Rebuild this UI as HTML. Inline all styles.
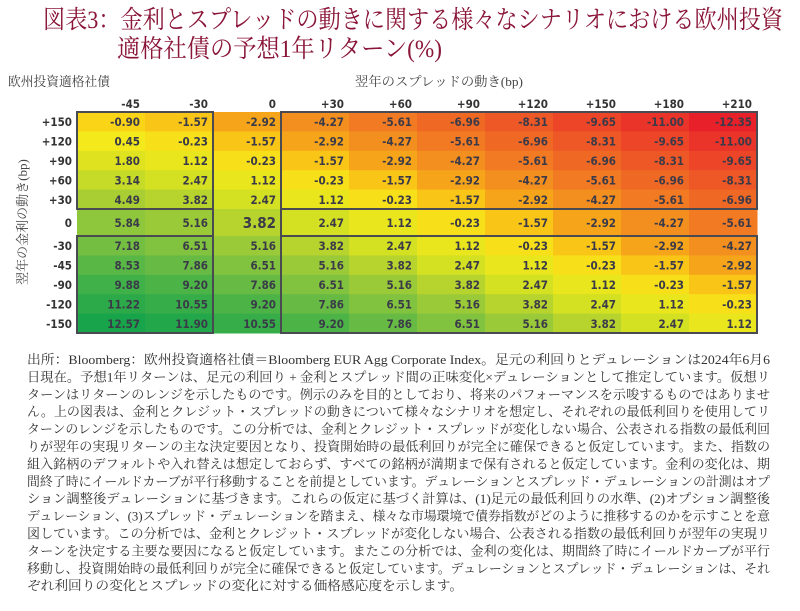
<!DOCTYPE html>
<html><head><meta charset="utf-8">
<style>
body{margin:0;background:#fff;}
svg{display:block;}
.cj{font-family:"Liberation Serif","Noto Serif CJK SC",serif;}
.num{font-family:"DejaVu Sans Condensed","DejaVu Sans","Liberation Sans",sans-serif;font-weight:bold;}
</style></head>
<body>
<svg id="chart" width="800" height="611" viewBox="0 0 800 611" xmlns="http://www.w3.org/2000/svg">
<text class="cj" x="43" y="28" font-size="25" fill="#8a1538" textLength="740" lengthAdjust="spacingAndGlyphs">図表3：金利とスプレッドの動きに関する様々なシナリオにおける欧州投資</text>
<text class="cj" x="117" y="57" font-size="25" fill="#8a1538" textLength="325" lengthAdjust="spacingAndGlyphs">適格社債の予想1年リターン(%)</text>
<text class="cj" x="8" y="86" font-size="13" fill="#444" textLength="102" lengthAdjust="spacingAndGlyphs">欧州投資適格社債</text>
<text class="cj" x="355" y="86" font-size="13" fill="#444" textLength="168" lengthAdjust="spacingAndGlyphs">翌年のスプレッドの動き(bp)</text>
<text class="cj" transform="translate(27,222) rotate(-90)" text-anchor="middle" font-size="13" fill="#444">翌年の金利の動き(bp)</text>
<g id="cells"></g>
<g id="frames"></g>
<g id="note" class="cj" font-size="13" fill="#333"></g>
</svg>
<script>
const colLabels=["-45","-30","0","+30","+60","+90","+120","+150","+180","+210"];
const rowLabels=["+150","+120","+90","+60","+30","0","-30","-45","-90","-120","-150"];
const r0=[-0.90,-1.57,-2.92,-4.27,-5.61,-6.96,-8.31,-9.65,-11.00,-12.35];
const r1=[0.45,-0.23,-1.57,-2.92,-4.27,-5.61,-6.96,-8.31,-9.65,-11.00];
const r2=[1.80,1.12,-0.23,-1.57,-2.92,-4.27,-5.61,-6.96,-8.31,-9.65];
const r3=[3.14,2.47,1.12,-0.23,-1.57,-2.92,-4.27,-5.61,-6.96,-8.31];
const r4=[4.49,3.82,2.47,1.12,-0.23,-1.57,-2.92,-4.27,-5.61,-6.96];
const r5=[5.84,5.16,3.82,2.47,1.12,-0.23,-1.57,-2.92,-4.27,-5.61];
const r6=[7.18,6.51,5.16,3.82,2.47,1.12,-0.23,-1.57,-2.92,-4.27];
const r7=[8.53,7.86,6.51,5.16,3.82,2.47,1.12,-0.23,-1.57,-2.92];
const r8=[9.88,9.20,7.86,6.51,5.16,3.82,2.47,1.12,-0.23,-1.57];
const r9=[11.22,10.55,9.20,7.86,6.51,5.16,3.82,2.47,1.12,-0.23];
const r10=[12.57,11.90,10.55,9.20,7.86,6.51,5.16,3.82,2.47,1.12];
const values=[r0,r1,r2,r3,r4,r5,r6,r7,r8,r9,r10];
const noteLines=[
"出所：Bloomberg：欧州投資適格社債＝Bloomberg EUR Agg Corporate Index。足元の利回りとデュレーションは2024年6月6",
"日現在。予想1年リターンは、足元の利回り + 金利とスプレッド間の正味変化×デュレーションとして推定しています。仮想リ",
"ターンはリターンのレンジを示したものです。例示のみを目的としており、将来のパフォーマンスを示唆するものではありませ",
"ん。上の図表は、金利とクレジット・スプレッドの動きについて様々なシナリオを想定し、それぞれの最低利回りを使用してリ",
"ターンのレンジを示したものです。この分析では、金利とクレジット・スプレッドが変化しない場合、公表される指数の最低利回",
"りが翌年の実現リターンの主な決定要因となり、投資開始時の最低利回りが完全に確保できると仮定しています。また、指数の",
"組入銘柄のデフォルトや入れ替えは想定しておらず、すべての銘柄が満期まで保有されると仮定しています。金利の変化は、期",
"間終了時にイールドカーブが平行移動することを前提としています。デュレーションとスプレッド・デュレーションの計測はオプ",
"ション調整後デュレーションに基づきます。これらの仮定に基づく計算は、(1)足元の最低利回りの水準、(2)オプション調整後",
"デュレーション、(3)スプレッド・デュレーションを踏まえ、様々な市場環境で債券指数がどのように推移するのかを示すことを意",
"図しています。この分析では、金利とクレジット・スプレッドが変化しない場合、公表される指数の最低利回りが翌年の実現リ",
"ターンを決定する主要な要因になると仮定しています。またこの分析では、金利の変化は、期間終了時にイールドカーブが平行",
"移動し、投資開始時の最低利回りが完全に確保できると仮定しています。デュレーションとスプレッド・デュレーションは、それ",
"ぞれ利回りの変化とスプレッドの変化に対する価格感応度を示します。"
];
const NS="http://www.w3.org/2000/svg";
const X0=77,CW=68,Y0=112,RH=19.4,ZH=27;
function xCol(i){return X0+i*CW;}
function yRow(j){return j<5?Y0+j*RH:(j==5?Y0+5*RH:Y0+5*RH+ZH+(j-6)*RH);}
function hRow(j){return j==5?ZH:RH;}
const stops=[[-12.35,[232,32,42]],[-8.3,[238,88,38]],[-5.6,[241,122,34]],[-2.9,[246,165,26]],[-1.2,[250,206,22]],[0.3,[245,234,26]],[2.5,[212,224,34]],[4.5,[168,206,52]],[7,[120,192,66]],[9.5,[70,178,72]],[12.6,[24,164,74]]];
function color(v){
  if(v<=stops[0][0])return `rgb(${stops[0][1]})`;
  for(let k=1;k<stops.length;k++){if(v<=stops[k][0]){const a=stops[k-1],b=stops[k];const t=(v-a[0])/(b[0]-a[0]);return `rgb(${a[1].map((c,i)=>Math.round(c+(b[1][i]-c)*t)).join(',')})`;}}
  return `rgb(${stops[stops.length-1][1]})`;
}
const cells=document.getElementById('cells');
colLabels.forEach((c,i)=>{
  const t=document.createElementNS(NS,'text');
  
  
  t.setAttribute('class','num');t.setAttribute('x',xCol(i)+CW-5);t.setAttribute('y',108);
  t.setAttribute('text-anchor','end');t.setAttribute('font-size','11.5');t.setAttribute('fill','#333');
  t.textContent=c;cells.appendChild(t);
});
values.forEach((row,j)=>{
  const lab=document.createElementNS(NS,'text');
  
  
  lab.setAttribute('class','num');lab.setAttribute('x',72);lab.setAttribute('y',yRow(j)+hRow(j)/2+4.5);
  lab.setAttribute('text-anchor','end');lab.setAttribute('font-size','11.5');lab.setAttribute('fill','#333');
  lab.textContent=rowLabels[j];cells.appendChild(lab);
  row.forEach((v,i)=>{
    const r=document.createElementNS(NS,'rect');
    
    
    r.setAttribute('x',xCol(i));r.setAttribute('y',yRow(j));r.setAttribute('width',CW+0.5);r.setAttribute('height',hRow(j)+0.5);
    r.setAttribute('fill',color(v));cells.appendChild(r);
    const t=document.createElementNS(NS,'text');
    
    
    const big=(j==5&&i==2);
    t.setAttribute('class','num');t.setAttribute('x',xCol(i)+CW-5);t.setAttribute('y',yRow(j)+hRow(j)/2+(big?5.5:4.5));
    t.setAttribute('text-anchor','end');t.setAttribute('font-size',big?'15':'11.5');t.setAttribute('fill','#3a3a48');
    t.textContent=v.toFixed(2);cells.appendChild(t);
  });
});
const frames=document.getElementById('frames');
function box(x1,y1,x2,y2,name){
  const r=document.createElementNS(NS,'rect');
  
  
  r.setAttribute('x',x1);r.setAttribute('y',y1);r.setAttribute('width',x2-x1);r.setAttribute('height',y2-y1);
  r.setAttribute('fill','none');r.setAttribute('stroke','#4a4a52');r.setAttribute('stroke-width','2');frames.appendChild(r);
}
const yTopEnd=yRow(5),yBotStart=yRow(6),yEnd=yRow(10)+RH;
box(xCol(0),Y0,xCol(2),yTopEnd,'frame-top-left');
box(xCol(3),Y0,xCol(10),yTopEnd,'frame-top-right');
box(xCol(0),yBotStart,xCol(2),yEnd,'frame-bottom-left');
box(xCol(3),yBotStart,xCol(10),yEnd,'frame-bottom-right');
[xCol(2),xCol(3)].forEach(x=>{
  const l=document.createElementNS(NS,'line');
  
  
  l.setAttribute('x1',x);l.setAttribute('x2',x);l.setAttribute('y1',yTopEnd);l.setAttribute('y2',yBotStart);
  l.setAttribute('stroke','#4a4a52');l.setAttribute('stroke-width','2');frames.appendChild(l);
});
const note=document.getElementById('note');
noteLines.forEach((s,k)=>{
  const t=document.createElementNS(NS,'text');
  
  
  t.setAttribute('x',27);t.setAttribute('y',364+k*17.4);
  if(k<noteLines.length-1){t.setAttribute('textLength',743);t.setAttribute('lengthAdjust','spacingAndGlyphs');}
  else{t.setAttribute('textLength',436);t.setAttribute('lengthAdjust','spacingAndGlyphs');}
  t.textContent=s;note.appendChild(t);
});
</script>
</body></html>
